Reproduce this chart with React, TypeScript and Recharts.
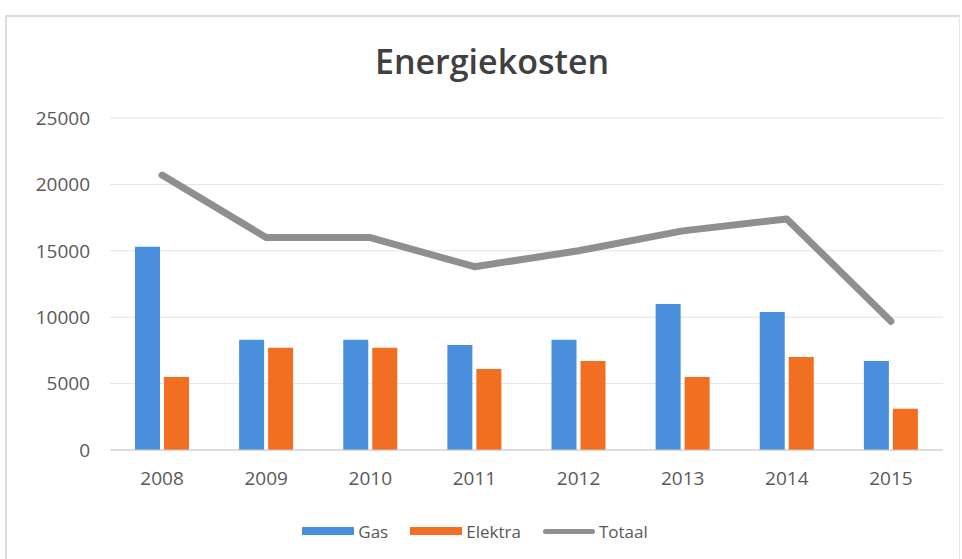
import { ComposedChart, Bar, Line, XAxis, YAxis, CartesianGrid } from "recharts";

const jaren = ["2008", "2009", "2010", "2011", "2012", "2013", "2014", "2015"];
const gas = [15300, 8300, 8300, 7900, 8300, 11000, 10400, 6700];
const elektra = [5500, 7700, 7700, 6100, 6700, 5500, 7000, 3100];
const totaal = [20700, 16000, 16000, 13800, 15000, 16500, 17400, 9700];
const yTicks = [0, 5000, 10000, 15000, 20000, 25000];

const GAS_COLOR = "#4a8fdc";
const ELEKTRA_COLOR = "#f26f22";
const TOTAAL_COLOR = "#8f8f8f";
const TEXT_COLOR = "#595959";
const FONT = "'Open Sans', sans-serif";

const data = jaren.map((jaar, i) => ({
  jaar,
  Gas: gas[i],
  Elektra: elektra[i],
  Totaal: totaal[i],
}));

const legendItems = [
  { name: "Gas", color: GAS_COLOR, line: false },
  { name: "Elektra", color: ELEKTRA_COLOR, line: false },
  { name: "Totaal", color: TOTAAL_COLOR, line: true },
];

// legend drawn by hand so the swatches look like the Excel ones
function ChartLegend() {
  return (
    <div
      style={{
        position: "absolute",
        left: 0,
        top: 518,
        width: 962,
        height: 26,
        display: "flex",
        justifyContent: "center",
        alignItems: "center",
        fontFamily: FONT,
        paddingLeft: 10,
        boxSizing: "border-box",
      }}
    >
      {legendItems.map((it) => (
        <div key={it.name} style={{ display: "flex", alignItems: "center", marginRight: 22 }}>
          <span
            style={{
              display: "inline-block",
              width: 52,
              height: it.line ? 5 : 8,
              background: it.color,
              marginRight: 4,
              borderRadius: it.line ? 3 : 0,
            }}
          />
          <span style={{ fontSize: 17, color: TEXT_COLOR }}>{it.name}</span>
        </div>
      ))}
    </div>
  );
}

export default function App() {
  return (
    <div style={{ position: "absolute", left: 0, top: 0, width: 962, height: 559, background: "#fff", overflow: "hidden" }}>
      <div
        style={{
          position: "absolute",
          left: 5,
          top: 15,
          width: 952,
          height: 560,
          borderTop: "2px solid #dcdcdc",
          borderLeft: "2px solid #dcdcdc",
          borderRight: "1px solid #e6e6e6",
        }}
      />
      <div
        style={{
          position: "absolute",
          left: 0,
          width: 984,
          top: 41,
          textAlign: "center",
          fontFamily: FONT,
          fontWeight: 600,
          fontSize: 34,
          color: "#404040",
          lineHeight: "40px",
        }}
      >
        Energiekosten
      </div>
      <ComposedChart
        width={962}
        height={559}
        data={data}
        margin={{ top: 118, right: 19, bottom: 79, left: 0 }}
        barSize={25}
        barGap={4}
        style={{ position: "absolute", left: 0, top: 0 }}
      >
        <CartesianGrid vertical={false} stroke="#e4e4e4" />
        <XAxis
          dataKey="jaar"
          height={30}
          tickLine={false}
          axisLine={{ stroke: "#c8c8c8" }}
          tickMargin={16}
          tick={{ fill: TEXT_COLOR, fontSize: 19, fontFamily: FONT }}
        />
        <YAxis
          width={110}
          domain={[0, 25000]}
          ticks={yTicks}
          tickLine={false}
          axisLine={false}
          tickMargin={14}
          tick={{ fill: TEXT_COLOR, fontSize: 19, fontFamily: FONT }}
        />
        <Bar dataKey="Gas" fill={GAS_COLOR} isAnimationActive={false} />
        <Bar dataKey="Elektra" fill={ELEKTRA_COLOR} isAnimationActive={false} />
        <Line
          dataKey="Totaal"
          type="linear"
          stroke={TOTAAL_COLOR}
          strokeWidth={7}
          strokeLinecap="round"
          strokeLinejoin="round"
          dot={false}
          activeDot={false}
          isAnimationActive={false}
        />
      </ComposedChart>
      <ChartLegend />
    </div>
  );
}
